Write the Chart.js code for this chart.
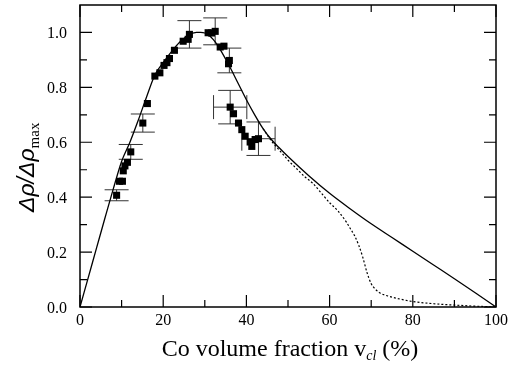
<!DOCTYPE html>
<html>
<head>
<meta charset="utf-8">
<script src="https://cdn.jsdelivr.net/npm/chart.js@4.4.1/dist/chart.umd.min.js"></script>
<style>
  html, body { margin: 0; padding: 0; background: #fff; }
  #wrap { width: 512px; height: 379px; position: relative; }
</style>
</head>
<body>
<div id="wrap"><canvas id="chart"></canvas></div>
<script>
// measured points (Co volume fraction %, normalised delta rho)
const pointsX = [8.8, 9.5, 10.2, 10.4, 10.8, 11.4, 12.2, 15.1, 16.2, 18.0, 19.2, 20.2, 20.9, 21.5, 22.7, 24.8, 26.0, 26.3,
  30.8, 31.6, 32.5, 33.7, 34.6, 35.7, 35.9, 36.1, 36.9, 38.1, 38.9, 39.7, 40.9, 41.3, 42.1, 42.9];
const pointsY = [0.407, 0.458, 0.458, 0.496, 0.514, 0.527, 0.565, 0.670, 0.741, 0.841, 0.853, 0.880, 0.890, 0.905, 0.935, 0.968, 0.975, 0.993,
  0.999, 0.998, 1.004, 0.947, 0.950, 0.886, 0.898, 0.728, 0.704, 0.670, 0.646, 0.622, 0.601, 0.585, 0.610, 0.613];
// error bars (0 = none)
const errX = [0, 0, 0, 0, 0, 0, 0, 0, 0, 0, 0, 0, 0, 0, 0, 0, 0, 0,
  0, 0, 0, 0, 0, 0, 0, 4.0, 0, 0, 0, 0, 0, 0, 0, 4.0];
const errY = [0.02, 0, 0, 0, 0, 0, 0.027, 0.033, 0, 0, 0, 0, 0, 0, 0, 0, 0, 0.05,
  0, 0, 0.049, 0, 0, 0, 0.045, 0.061, 0, 0, 0, 0, 0, 0, 0, 0.061];

// model curve (solid)
const curveX = [0, 2, 4, 6, 8, 10, 12, 14, 16, 18, 20, 22, 24, 26, 28, 29, 30, 31, 32, 33, 34, 36, 38, 40, 42, 44, 46, 48, 50,
  55, 60, 65, 70, 75, 80, 85, 90, 95, 100];
const curveY = [0, 0.108, 0.216, 0.324, 0.43, 0.53, 0.6, 0.68, 0.765, 0.845, 0.89, 0.93, 0.965, 0.99, 1.0, 1.0, 0.998, 0.99, 0.975, 0.955, 0.93,
  0.875, 0.815, 0.755, 0.70, 0.65, 0.61, 0.578, 0.548, 0.478, 0.414, 0.357, 0.303, 0.253, 0.203, 0.153, 0.103, 0.052, 0];

// second model curve (dotted)
const dottedX = [44, 46, 48, 50, 52, 54, 56, 58, 60, 62, 64, 65, 66, 67, 68, 69, 70, 71, 72, 74, 76, 80, 85, 90, 95, 100];
const dottedY = [0.65, 0.605, 0.57, 0.535, 0.505, 0.475, 0.45, 0.415, 0.38, 0.35, 0.31, 0.285, 0.26, 0.225, 0.18, 0.125, 0.085, 0.065,
  0.052, 0.04, 0.032, 0.02, 0.012, 0.007, 0.003, 0];

const xMajor = [0, 20, 40, 60, 80, 100];
const xMinor = [10, 30, 50, 70, 90];
const yMajor = [0, 0.2, 0.4, 0.6, 0.8, 1.0];
const yMinor = [0.1, 0.3, 0.5, 0.7, 0.9];
const xLabels = ["0", "20", "40", "60", "80", "100"];
const yLabels = ["0.0", "0.2", "0.4", "0.6", "0.8", "1.0"];

const toXY = (xs, ys) => xs.map((x, i) => ({ x: x, y: ys[i] }));

const errorBars = {
  id: "errorBars",
  beforeDatasetsDraw(chart) {
    const { ctx, scales } = chart;
    const cap = 12;
    ctx.save();
    ctx.strokeStyle = "#333";
    ctx.lineWidth = 1;
    pointsX.forEach((x, i) => {
      const px = scales.x.getPixelForValue(x);
      const py = scales.y.getPixelForValue(pointsY[i]);
      ctx.beginPath();
      if (errY[i] > 0) {
        const y1 = scales.y.getPixelForValue(pointsY[i] + errY[i]);
        const y2 = scales.y.getPixelForValue(pointsY[i] - errY[i]);
        ctx.moveTo(px, y1); ctx.lineTo(px, y2);
        ctx.moveTo(px - cap, y1); ctx.lineTo(px + cap, y1);
        ctx.moveTo(px - cap, y2); ctx.lineTo(px + cap, y2);
      }
      if (errX[i] > 0) {
        const x1 = scales.x.getPixelForValue(x - errX[i]);
        const x2 = scales.x.getPixelForValue(x + errX[i]);
        ctx.moveTo(x1, py); ctx.lineTo(x2, py);
        ctx.moveTo(x1, py - cap); ctx.lineTo(x1, py + cap);
        ctx.moveTo(x2, py - cap); ctx.lineTo(x2, py + cap);
      }
      ctx.stroke();
    });
    ctx.restore();
  }
};

const frameAndTitles = {
  id: "frameAndTitles",
  afterDraw(chart) {
    const { ctx, chartArea: a, scales } = chart;
    ctx.save();
    ctx.strokeStyle = "#000";
    ctx.lineWidth = 1.5;
    ctx.strokeRect(a.left, a.top, a.right - a.left, a.bottom - a.top);

    // inward ticks on all four sides
    ctx.lineWidth = 1.2;
    ctx.beginPath();
    const xt = (vals, len) => vals.forEach(v => {
      const px = scales.x.getPixelForValue(v);
      ctx.moveTo(px, a.bottom); ctx.lineTo(px, a.bottom - len);
      ctx.moveTo(px, a.top); ctx.lineTo(px, a.top + len);
    });
    const yt = (vals, len) => vals.forEach(v => {
      const py = scales.y.getPixelForValue(v);
      ctx.moveTo(a.left, py); ctx.lineTo(a.left + len, py);
      ctx.moveTo(a.right, py); ctx.lineTo(a.right - len, py);
    });
    xt(xMajor, 12); xt(xMinor, 7);
    yt(yMajor, 12); yt(yMinor, 7);
    ctx.stroke();

    // tick labels
    ctx.fillStyle = "#000";
    ctx.font = '16px "Liberation Serif"';
    ctx.textBaseline = "alphabetic";
    ctx.textAlign = "center";
    xMajor.forEach((v, i) => ctx.fillText(xLabels[i], scales.x.getPixelForValue(v), a.bottom + 18));
    ctx.textAlign = "right";
    yMajor.forEach((v, i) => ctx.fillText(yLabels[i], a.left - 13, scales.y.getPixelForValue(v) + 6));

    // x title with subscript
    ctx.textAlign = "left";
    const xParts = [
      { t: "Co volume fraction v", f: '24px "Liberation Serif"', dy: 0 },
      { t: "cl", f: 'italic 14px "Liberation Serif"', dy: 4 },
      { t: " (%)", f: '24px "Liberation Serif"', dy: 0 }
    ];
    let w = 0;
    xParts.forEach(p => { ctx.font = p.f; p.w = ctx.measureText(p.t).width; w += p.w; });
    let cx = 290 - w / 2;
    xParts.forEach(p => { ctx.font = p.f; ctx.fillText(p.t, cx, 356 + p.dy); cx += p.w; });

    // y title, rotated
    ctx.translate(34, 212);
    ctx.rotate(-Math.PI / 2);
    const yParts = [
      { t: "\u0394\u03C1/\u0394\u03C1", f: 'italic 23px "Liberation Sans"', dy: 0 },
      { t: "max", f: '15px "Liberation Serif"', dy: 5 }
    ];
    let cy = 0;
    yParts.forEach(p => { ctx.font = p.f; ctx.fillText(p.t, cy, p.dy); cy += ctx.measureText(p.t).width; });
    ctx.restore();
  }
};

new Chart(document.getElementById("chart").getContext("2d"), {
  type: "scatter",
  data: {
    datasets: [
      {
        label: "model",
        data: toXY(curveX, curveY),
        showLine: true,
        borderColor: "#000",
        borderWidth: 1.3,
        pointRadius: 0,
        cubicInterpolationMode: "monotone",
        order: 2
      },
      {
        label: "model 2",
        data: toXY(dottedX, dottedY),
        showLine: true,
        borderColor: "#000",
        borderWidth: 1.2,
        borderDash: [2, 2],
        pointRadius: 0,
        cubicInterpolationMode: "monotone",
        order: 3
      },
      {
        label: "data",
        data: toXY(pointsX, pointsY),
        pointStyle: "rect",
        pointRadius: 5,
        pointBorderWidth: 0,
        backgroundColor: "#000",
        borderColor: "#000",
        order: 1
      }
    ]
  },
  options: {
    responsive: true,
    maintainAspectRatio: false,
    animation: false,
    layout: { padding: { top: 4, right: 16, left: 0, bottom: 0 } },
    plugins: { legend: { display: false }, tooltip: { enabled: false } },
    scales: {
      x: {
        type: "linear",
        min: 0,
        max: 100,
        afterFit: s => { s.height = 72; },
        grid: { display: false, drawTicks: false },
        border: { display: false },
        ticks: { display: false }
      },
      y: {
        type: "linear",
        min: 0,
        max: 1.1,
        afterFit: s => { s.width = 80; },
        grid: { display: false, drawTicks: false },
        border: { display: false },
        ticks: { display: false }
      }
    }
  },
  plugins: [errorBars, frameAndTitles]
});
</script>
</body>
</html>
